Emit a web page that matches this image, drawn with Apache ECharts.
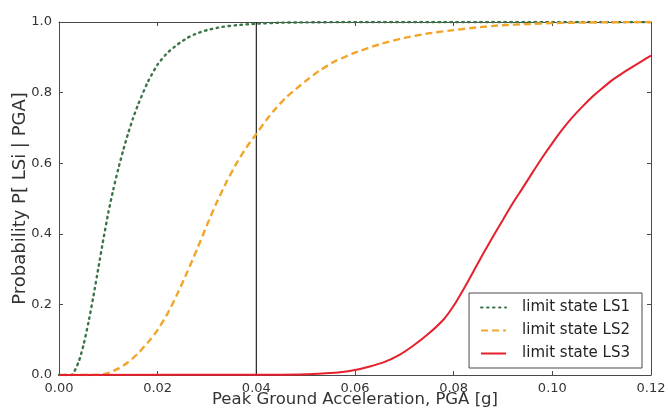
<!DOCTYPE html>
<html>
<head>
<meta charset="utf-8">
<script src="https://cdn.jsdelivr.net/npm/echarts@6/dist/echarts.min.js"></script>
<style>
html,body{margin:0;padding:0;background:#fff;}
#chart{width:668px;height:410px;}
</style>
</head>
<body>
<div id="chart"></div>
<script>
// ---- data ----
const ls1X = [0, 0.0025, 0.004, 0.005, 0.006, 0.007, 0.008, 0.009, 0.010, 0.011, 0.012, 0.013, 0.014, 0.015, 0.016, 0.018, 0.020, 0.022, 0.024, 0.026, 0.028, 0.030, 0.033, 0.036, 0.040, 0.045, 0.050, 0.060, 0.080, 0.100, 0.120];
const ls1Y = [0, 0, 0.038, 0.087, 0.151, 0.225, 0.305, 0.385, 0.46, 0.525, 0.583, 0.636, 0.684, 0.727, 0.765, 0.830, 0.880, 0.913, 0.936, 0.955, 0.968, 0.977, 0.986, 0.991, 0.995, 0.998, 0.999, 1.0, 1.0, 1.0, 1.0];

const ls2X = [0, 0.008, 0.009, 0.010, 0.012, 0.014, 0.016, 0.018, 0.020, 0.022, 0.024, 0.026, 0.028, 0.030, 0.032, 0.034, 0.036, 0.038, 0.040, 0.042, 0.044, 0.046, 0.048, 0.050, 0.053, 0.056, 0.060, 0.065, 0.070, 0.075, 0.080, 0.085, 0.090, 0.095, 0.100, 0.110, 0.120];
const ls2Y = [0, 0, 0.002, 0.006, 0.018, 0.036, 0.061, 0.092, 0.128, 0.174, 0.230, 0.292, 0.357, 0.425, 0.490, 0.548, 0.600, 0.645, 0.683, 0.722, 0.756, 0.786, 0.81, 0.833, 0.864, 0.889, 0.913, 0.937, 0.955, 0.968, 0.977, 0.985, 0.991, 0.994, 0.997, 0.999, 1.0];

const ls3X = [0, 0.045, 0.050, 0.054, 0.057, 0.060, 0.063, 0.066, 0.069, 0.072, 0.075, 0.078, 0.080, 0.082, 0.084, 0.086, 0.088, 0.090, 0.092, 0.094, 0.096, 0.098, 0.100, 0.102, 0.104, 0.106, 0.108, 0.110, 0.112, 0.114, 0.116, 0.118, 0.120];
const ls3Y = [0, 0.001, 0.002, 0.005, 0.008, 0.014, 0.024, 0.037, 0.057, 0.085, 0.118, 0.158, 0.196, 0.243, 0.293, 0.344, 0.393, 0.440, 0.487, 0.530, 0.574, 0.617, 0.657, 0.695, 0.729, 0.759, 0.787, 0.811, 0.834, 0.853, 0.871, 0.888, 0.905];

const seriesNames = ['limit state LS1', 'limit state LS2', 'limit state LS3'];
const markerPGA = 0.04;
const xTicks = [0, 0.02, 0.04, 0.06, 0.08, 0.10, 0.12];
const yTicks = [0, 0.2, 0.4, 0.6, 0.8, 1.0];
const xTitle = 'Peak Ground Acceleration, PGA [g]';
const yTitle = 'Probability P[ LSi | PGA]';

const pairs = (xs, ys) => xs.map((x, i) => [x, ys[i]]);
const FONT = 'DejaVu Sans';
const frameColor = '#4a4a4a';
const labelColor = '#333';

const chart = echarts.init(document.getElementById('chart'), null, {renderer: 'canvas'});
const axisCommon = {
  axisLine: {show: true, onZero: false, lineStyle: {color: frameColor, width: 1}},
  axisTick: {show: true, inside: true, length: 4, lineStyle: {color: frameColor}},
  splitLine: {show: false}
};
chart.setOption({
  animation: false,
  backgroundColor: '#fff',
  grid: {left: 59, right: 17, top: 22, bottom: 35, containLabel: false, outerBoundsMode: 'none'},
  xAxis: [
    Object.assign({
      type: 'value', position: 'bottom', min: xTicks[0], max: xTicks[xTicks.length - 1], interval: 0.02,
      name: xTitle, nameLocation: 'middle', nameGap: 16, nameMoveOverlap: false,
      nameTextStyle: {fontFamily: FONT, fontSize: 16.5, color: labelColor},
      axisLabel: {margin: 7, fontFamily: FONT, fontSize: 13, color: labelColor,
        formatter: v => v.toFixed(2), showMinLabel: true, showMaxLabel: true}
    }, axisCommon),
    Object.assign({
      type: 'value', position: 'top', min: xTicks[0], max: xTicks[xTicks.length - 1], interval: 0.02,
      axisLabel: {show: false}
    }, axisCommon)
  ],
  yAxis: [
    Object.assign({
      type: 'value', position: 'left', min: yTicks[0], max: yTicks[yTicks.length - 1], interval: 0.2,
      name: yTitle, nameLocation: 'middle', nameGap: 30, nameMoveOverlap: false,
      nameTextStyle: {fontFamily: FONT, fontSize: 18, color: labelColor},
      axisLabel: {margin: 7, fontFamily: FONT, fontSize: 13, color: labelColor,
        formatter: v => v.toFixed(1)}
    }, axisCommon),
    Object.assign({
      type: 'value', position: 'right', min: yTicks[0], max: yTicks[yTicks.length - 1], interval: 0.2,
      axisLabel: {show: false}
    }, axisCommon)
  ],
  legend: {
    data: seriesNames,
    orient: 'vertical',
    right: 26, bottom: 42,
    backgroundColor: '#fff',
    borderColor: frameColor, borderWidth: 1, borderRadius: 0,
    padding: [7, 12, 7, 11],
    itemWidth: 25, itemHeight: 14, itemGap: 8,
    itemStyle: {opacity: 0},
    textStyle: {fontFamily: FONT, fontSize: 15, color: '#222', padding: [0, 0, 0, 11]}
  },
  series: [
    {
      name: seriesNames[0], type: 'line', data: pairs(ls1X, ls1Y),
      showSymbol: false, symbol: 'none', smooth: 0.2, z: 3,
      lineStyle: {color: '#3c7448', width: 2.4, type: [1.5, 4.5], cap: 'round'},
      itemStyle: {color: '#3c7448'}
    },
    {
      name: seriesNames[1], type: 'line', data: pairs(ls2X, ls2Y),
      showSymbol: false, symbol: 'none', smooth: 0.2, z: 3,
      lineStyle: {color: '#f2a52c', width: 2.4, type: [7, 4]},
      itemStyle: {color: '#f2a52c'}
    },
    {
      name: seriesNames[2], type: 'line', data: pairs(ls3X, ls3Y),
      showSymbol: false, symbol: 'none', smooth: 0.2, z: 4,
      lineStyle: {color: '#e5202c', width: 2},
      itemStyle: {color: '#e5202c'}
    },
    {
      name: 'marker', type: 'line', data: [[markerPGA, yTicks[0]], [markerPGA, yTicks[yTicks.length - 1]]],
      showSymbol: false, symbol: 'none', z: 2, silent: true,
      lineStyle: {color: '#222', width: 1.2}
    }
  ]
});
</script>
</body>
</html>
